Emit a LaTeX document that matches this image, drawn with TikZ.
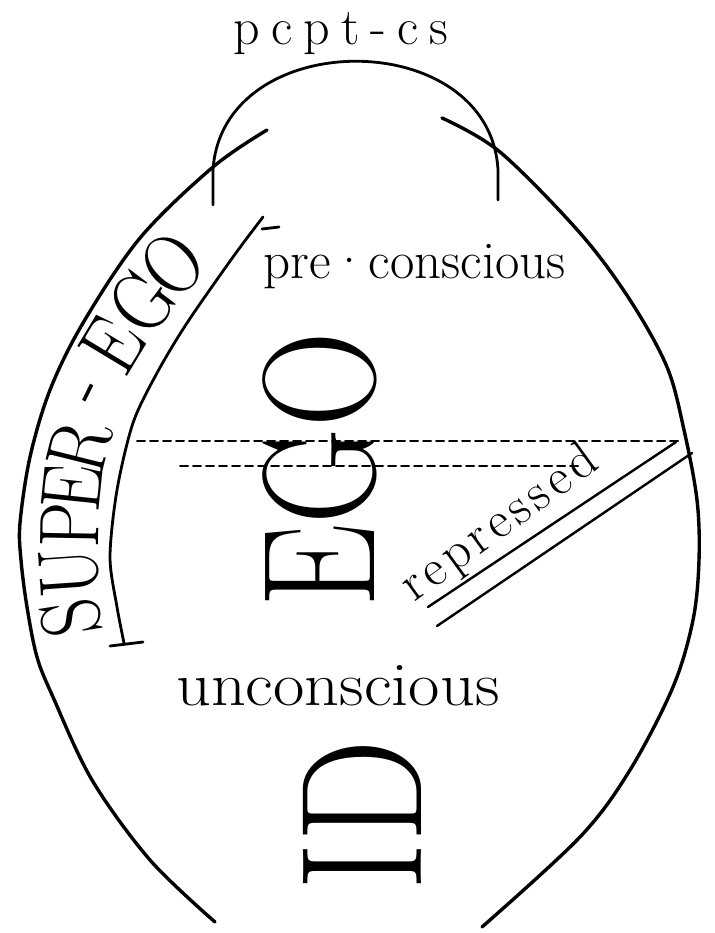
\documentclass[tikz,border=0pt]{standalone}
\usepackage{fontspec}
\usepackage{graphicx, tikz}
\usetikzlibrary{calc}
\tikzstyle{every picture}=[line cap=round,line join=round]
\tikzstyle{egg}=[line width=3.4pt]
\tikzstyle{band}=[line width=2.8pt]
\tikzstyle{wall}=[line width=2.4pt]
\tikzstyle{split}=[line width=2pt,dash pattern=on 8pt off 5pt]
\tikzstyle{lbl}=[inner sep=0pt]
\makeatletter
\newcommand\spreadtext[2]{\def\sp@gap{#1}\@tfor\sp@c:=#2\do{\sp@c\kern\sp@gap}\unkern}
\makeatother

\begin{document}
\begin{tikzpicture}[x=1pt,y=-1pt]
\fill[white] (0,0) rectangle (714,933);
\useasboundingbox (0,0) rectangle (714,933);
    % outer line, left and right halves
    \draw[egg] plot[smooth,tension=0.55] coordinates {(267,130) (213,167) (140,238) (83,323) (50,390) (30,457) (20,523) (21,560) (27,607) (37,657) (53,697) (92,780) (150,860) (215,922)};
    \draw[egg] plot[smooth,tension=0.55] coordinates {(442,118) (500,152) (580,233) (630,300) (667,367) (684,430) (697,500) (699,560) (693,620) (673,687) (630,770) (580,837) (482,927)};
    % pcpt-cs cap
    \coordinate (capL) at (213,205);
    \coordinate (capR) at (498,200);
    \draw[band] (capL) -- (213,170) .. controls (222,25) and (490,25) .. (498,170) -- (capR);
    \node[lbl,anchor=base] (pcpt) at (341,45) {\fontsize{52}{52}\selectfont\spreadtext{11pt}{pcpt-cs}};
    % super-ego band
    \draw[band] plot[smooth] coordinates {(263,217) (233,257) (187,323) (157,373) (133,423) (117,490) (110,557) (117,607) (124,643)};
    \draw[band] (262,229) -- (279,227);
    \draw[band] (110,646) -- (143,642);
 \foreach \ch/\px/\py/\ang [count=\i] in {S/71/618/99, U/69/572/94, P/70/525/89, E/72/488/84, R/80/447/76, -/96/395/64, E/112/345/59, G/142/302/53, O/172/265/45}
   \node[lbl,rotate=\ang] (se\i) at (\px,\py) {\fontsize{85}{85}\selectfont\scalebox{0.85}[1]{\ch}};
    % conscious / unconscious borders
    \coordinate (pcL) at (137,441);
    \coordinate (pcR) at (678,441);
    \coordinate (ucL) at (180,466);
    \coordinate (ucR) at (578,466);
    \draw[split] (pcL) -- (pcR);
    \draw[split] (ucL) -- (ucR);
    % repressed
    \coordinate (rpA) at (428,607);
    \coordinate (rpB) at (676,442);
    \coordinate (rqA) at (437,626);
    \coordinate (rqB) at (692,453);
    \draw[wall] (rpA) -- (rpB);
    \draw[wall] (rqA) -- (rqB);
    \node[lbl,anchor=base west,rotate=36] (repr) at (414,603) {\fontsize{52}{52}\selectfont\spreadtext{5pt}{repressed}};
    % labels
    \node[lbl,anchor=base west] (precs) at (263,278) {\fontsize{53}{53}\selectfont pre·conscious};
    \node[lbl,anchor=base west] (uncs) at (176,705) {\fontsize{62}{62}\selectfont\scalebox{1.1}[1]{unconscious}};
    \node[lbl,rotate=90] (ego) at (320,470) {\fontsize{160}{160}\selectfont\scalebox{0.83}[1]{EGO}};
    \node[lbl,rotate=90] (id) at (362,815) {\fontsize{173}{173}\selectfont\scalebox{0.84}[1]{ID}};
\end{tikzpicture}
\end{document}
